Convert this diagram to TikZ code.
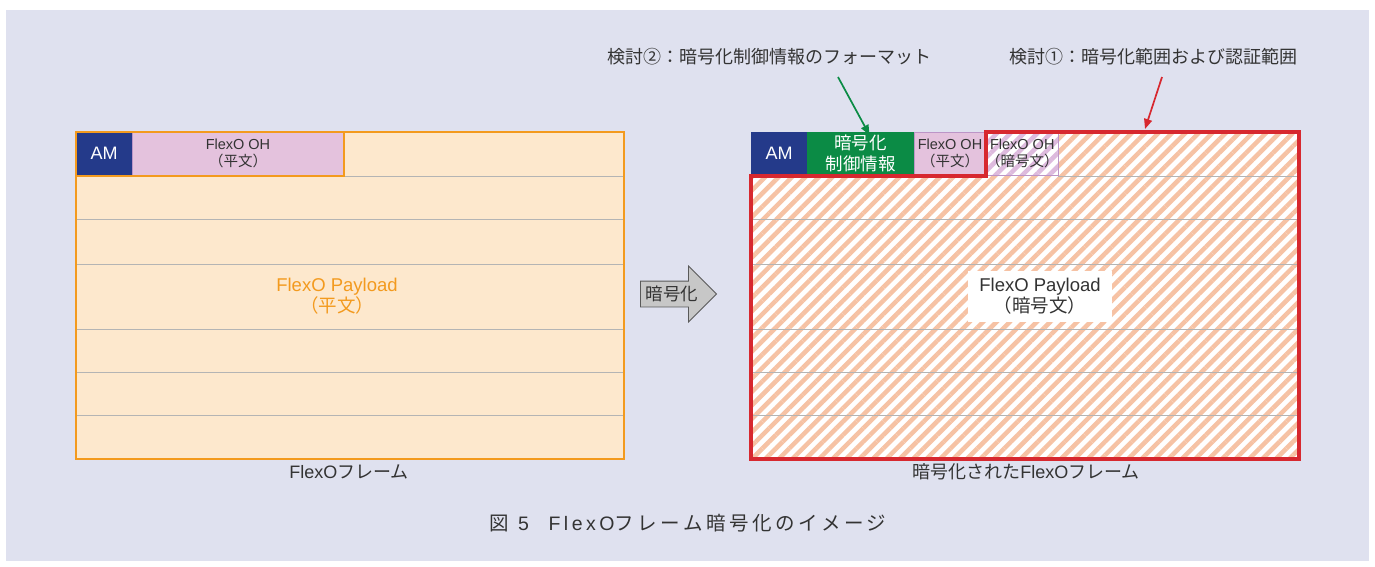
\documentclass[tikz,border=0pt]{standalone}
\usepackage{fontspec}
\setmainfont{Liberation Sans}
\newfontfamily\jpf{Noto Sans CJK JP}
\newfontfamily\capjp[LetterSpace=18]{Noto Sans CJK JP}
\newfontfamily\capla[LetterSpace=18]{Liberation Sans}
\usetikzlibrary{arrows.meta,patterns.meta,shapes.arrows}
\definecolor{bgc}{HTML}{DFE1EF}
\definecolor{amblue}{HTML}{243A8A}
\definecolor{ohpink}{HTML}{E4C2DD}
\definecolor{ohborder}{HTML}{BC95C7}
\definecolor{peach}{HTML}{FDE8CD}
\definecolor{orng}{HTML}{F39A1E}
\definecolor{rowgray}{HTML}{B4B4B4}
\definecolor{ctlgreen}{HTML}{0B8B45}
\definecolor{frred}{HTML}{D7282F}
\definecolor{hatchorange}{HTML}{F6C2A4}
\definecolor{hatchlav}{HTML}{DDBADD}
\definecolor{txt}{HTML}{333333}
\tikzset{
  cell/.style={anchor=north west, inner sep=0pt, outer sep=0pt, minimum height=43pt, align=center, text=txt},
  amcell/.style={cell, fill=amblue, minimum width=56pt, text=white, font=\fontsize{18}{20}\selectfont},
  ohcell/.style={cell, fill=ohpink, draw=ohborder, line width=1pt, font=\fontsize{14.5}{16.5}\selectfont},
  rowline/.style={draw=rowgray, line width=0.9pt},
  capt/.style={text=txt, font=\fontsize{18}{20}\selectfont},
  annot/.style={text=txt, font=\fontsize{18}{20}\selectfont\jpf},
  paylabel/.style={align=center, font=\fontsize{18.5}{21}\selectfont},
  hatch/.style={preaction={fill=white}, pattern={Lines[angle=45,distance=9.5pt,line width=4.5pt]}},
  callout/.style={line width=1.7pt, -{Triangle[length=10pt,width=8pt]}},
}
\begin{document}
\begin{tikzpicture}[x=1pt,y=-1pt]
\useasboundingbox (0,0) rectangle (1375,566);
\fill[white] (0,0) rectangle (1375,566);
\fill[bgc] (6,10) rectangle (1369,561);

% ---------- left frame ----------
\node[anchor=north west, inner sep=0pt, outer sep=0pt, minimum width=548pt, minimum height=327pt, fill=peach] (lframe) at (76,132) {};
\foreach \yy in {176,219,264,329,372,415} \draw[rowline] (76,\yy) -- (624,\yy);
\node[amcell] (lam) at (76,132) {AM};
\node[ohcell, minimum width=212pt] (loh) at (132,132) {FlexO OH\\{\jpf （平文）}};
\draw[orng, line width=2.5pt] (lframe.north west) rectangle (lframe.south east);
\draw[orng, line width=2.5pt] (76,176) -- (344,176) -- (344,132);
\node[paylabel, text=orng] (lpay) at (337,296) {FlexO Payload\\{\jpf （平文）}};
\node[capt] (lcap) at (349,472) {FlexO{\jpf フレーム}};

% ---------- arrow ----------
\node[single arrow, draw=black!65, fill=black!22, line width=0.8pt, minimum height=76pt, inner xsep=2pt, inner ysep=4.5pt, single arrow head extend=15pt, single arrow head indent=0pt, text=txt, font=\fontsize{17.5}{19}\selectfont\jpf] (enc) at (672,294) {暗号化};

% ---------- right frame ----------
\node[anchor=north west, inner sep=0pt, outer sep=0pt, minimum width=548pt, minimum height=327pt,
      hatch, pattern color=hatchorange] (rframe) at (751,132) {};
\foreach \yy in {219,264,329,372,415} \draw[rowline] (751,\yy) -- (1299,\yy);
\draw[rowline] (1058,176) -- (1299,176);
\node[amcell] (ram) at (751,132) {AM};
\node[cell, fill=ctlgreen, minimum width=107pt, text=white, font=\fontsize{17.5}{20.5}\selectfont\jpf] (ctl) at (807,132) {暗号化\\制御情報};
\node[ohcell, minimum width=72pt] (roh1) at (914,132) {FlexO OH\\{\jpf （平文）}};
\node[ohcell, minimum width=72pt, fill=none, hatch, pattern color=hatchlav] (roh2) at (986,132) {};
\node[cell, minimum width=72pt, font=\fontsize{14.5}{16.5}\selectfont] (roh2t) at (986,132) {FlexO OH\\{\jpf （暗号文）}};
\coordinate (enctop) at (1145,129);
\draw[frred, line width=4pt, line join=miter] (986,132) -- (1299,132) -- (1299,459) -- (751,459) -- (751,176) -- (986,176) -- cycle;
\node[paylabel, fill=white, minimum width=144pt, minimum height=51pt, text=txt, inner sep=0pt] (rpay) at (1040,296) {FlexO Payload\\{\jpf （暗号文）}};
\node[capt] (rcap) at (1026,472) {{\jpf 暗号化された}FlexO{\jpf フレーム}};

% ---------- annotations ----------
\node[annot] (lab2) at (769,57) {検討②：暗号化制御情報のフォーマット};
\node[annot] (lab1) at (1153,57) {検討①：暗号化範囲および認証範囲};
\draw[callout, ctlgreen] (838,77) -- ([xshift=9pt,yshift=-3pt]ctl.north);
\draw[callout, frred] (1162,77) -- (enctop);

% ---------- caption ----------
\node[text=txt, font=\fontsize{19.5}{22}\selectfont] (cap) at (688,523) {{\capjp 図}{\capla\ 5}{\capjp 　}{\capla FlexO}{\capjp フレーム暗号化のイメージ}};
\end{tikzpicture}
\end{document}
